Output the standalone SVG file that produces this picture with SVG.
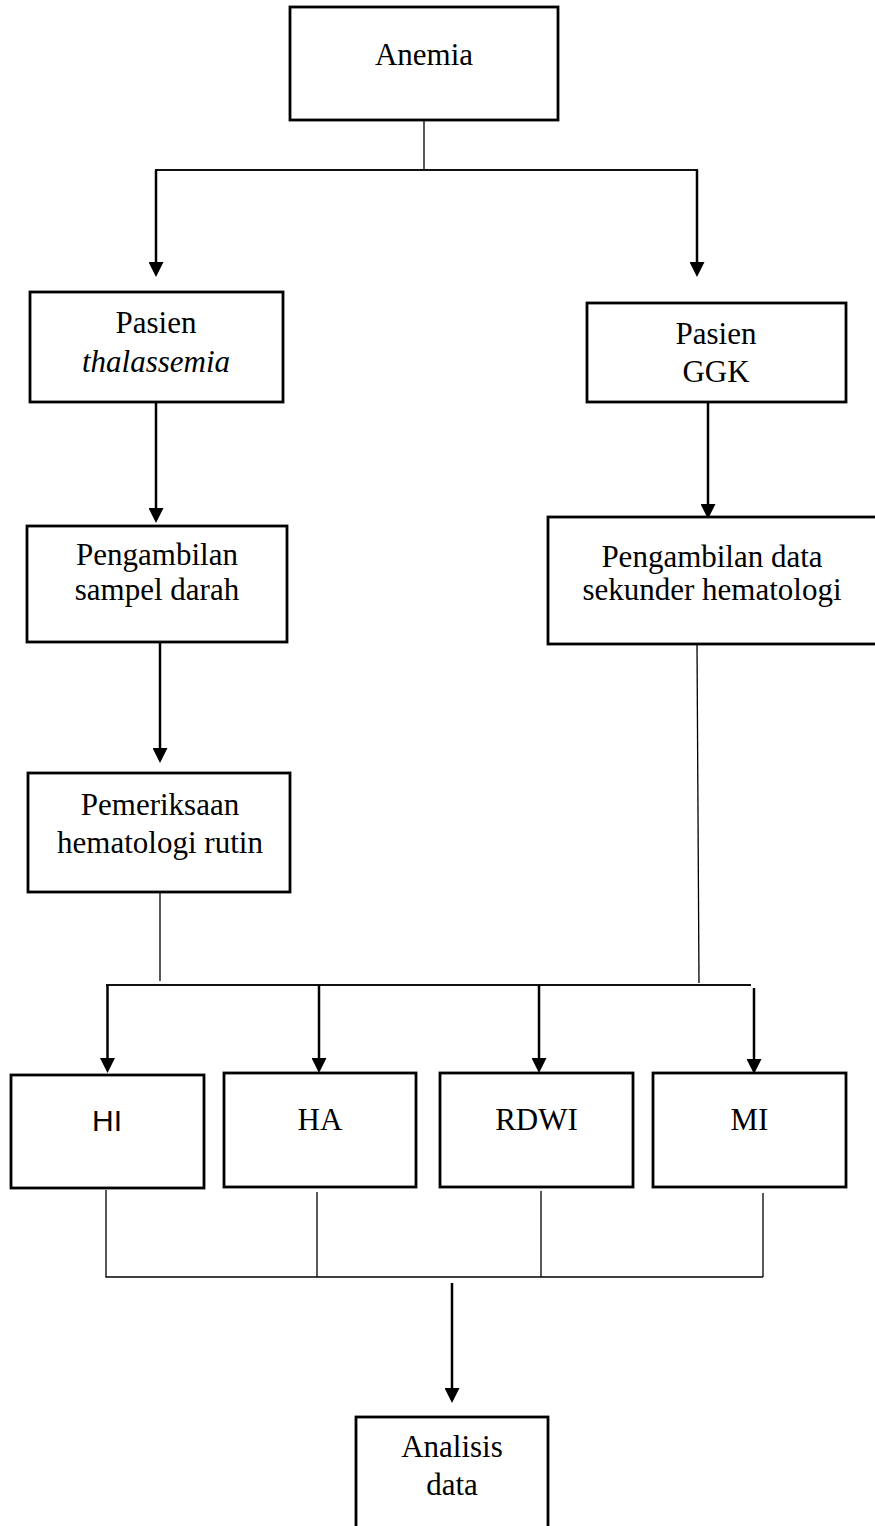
<svg xmlns="http://www.w3.org/2000/svg" width="875" height="1526" viewBox="0 0 875 1526">
<defs>
<marker id="arr" viewBox="0 0 15 15" markerWidth="15" markerHeight="15" refX="5" refY="7.5" orient="auto" markerUnits="userSpaceOnUse">
<path d="M0,0 L15,7.5 L0,15 z" fill="#000"/>
</marker>
<style>
.box{fill:#fff;stroke:#000;stroke-width:2.8}
.t{font-family:"Liberation Serif","Times New Roman",serif;font-size:31px;fill:#000;text-anchor:middle}
.s{font-family:"Liberation Sans",Arial,sans-serif;font-size:30px;fill:#000;text-anchor:middle}
.arrow{stroke:#000;stroke-width:2.5;fill:none;marker-end:url(#arr)}
.thin{stroke:#000;stroke-width:1.3;fill:none}
.mid{stroke:#111;stroke-width:2;fill:none}
</style>
</defs>
<g id="connectors">
<line class="thin" x1="424" y1="120" x2="424" y2="170"/>
<line class="mid" x1="155" y1="170" x2="698" y2="170"/>
<line class="arrow" x1="156" y1="170" x2="156" y2="267"/>
<line class="arrow" x1="697" y1="170" x2="697" y2="267"/>
<line class="arrow" x1="156" y1="402" x2="156" y2="513"/>
<line class="arrow" x1="708" y1="402" x2="708" y2="509"/>
<line class="arrow" x1="160" y1="642" x2="160" y2="753"/>
<line class="thin" x1="160" y1="892" x2="160" y2="981"/>
<line class="thin" x1="697" y1="644" x2="699" y2="983"/>
<line class="mid" x1="106" y1="985" x2="751" y2="985"/>
<line class="arrow" x1="107.5" y1="985" x2="107.5" y2="1063"/>
<line class="arrow" x1="319" y1="985" x2="319" y2="1063"/>
<line class="arrow" x1="539" y1="985" x2="539" y2="1063"/>
<line class="arrow" x1="754" y1="988" x2="754" y2="1064"/>
<line class="thin" x1="106" y1="1190" x2="106" y2="1277"/>
<line class="thin" x1="317" y1="1192" x2="317" y2="1277"/>
<line class="thin" x1="541" y1="1191" x2="541" y2="1277"/>
<line class="thin" x1="763" y1="1193" x2="763" y2="1277"/>
<line class="thin" x1="105.5" y1="1277" x2="763" y2="1277"/>
<line class="arrow" x1="452" y1="1283" x2="452" y2="1393"/>
</g>
<g id="anemia">
<rect class="box" x="290" y="7" width="268" height="113"/>
<text class="t" x="424" y="65">Anemia</text>
</g>
<g id="pasien-thalassemia">
<rect class="box" x="30" y="292" width="253" height="110"/>
<text class="t" x="156" y="333">Pasien</text>
<text class="t" x="156" y="372" font-style="italic">thalassemia</text>
</g>
<g id="pasien-ggk">
<rect class="box" x="587" y="303" width="259" height="99"/>
<text class="t" x="716" y="344">Pasien</text>
<text class="t" x="716" y="382">GGK</text>
</g>
<g id="pengambilan-sampel">
<rect class="box" x="27" y="526" width="260" height="116"/>
<text class="t" x="157" y="565">Pengambilan</text>
<text class="t" x="157" y="600">sampel darah</text>
</g>
<g id="pengambilan-data">
<rect class="box" x="548" y="517" width="329" height="127"/>
<text class="t" x="712" y="567">Pengambilan data</text>
<text class="t" x="712" y="600">sekunder hematologi</text>
</g>
<g id="pemeriksaan">
<rect class="box" x="28" y="773" width="262" height="119"/>
<text class="t" x="160" y="815">Pemeriksaan</text>
<text class="t" x="160" y="853">hematologi rutin</text>
</g>
<g id="hi">
<rect class="box" x="11" y="1075" width="193" height="113"/>
<text class="s" x="107" y="1131">HI</text>
</g>
<g id="ha">
<rect class="box" x="224" y="1073" width="192" height="114"/>
<text class="t" x="320" y="1130">HA</text>
</g>
<g id="rdwi">
<rect class="box" x="440" y="1073" width="193" height="114"/>
<text class="t" x="536.5" y="1130">RDWI</text>
</g>
<g id="mi">
<rect class="box" x="653" y="1073" width="193" height="114"/>
<text class="t" x="749.5" y="1130">MI</text>
</g>
<g id="analisis">
<rect class="box" x="356" y="1417" width="192" height="115"/>
<text class="t" x="452" y="1457">Analisis</text>
<text class="t" x="452" y="1495">data</text>
</g>
</svg>
